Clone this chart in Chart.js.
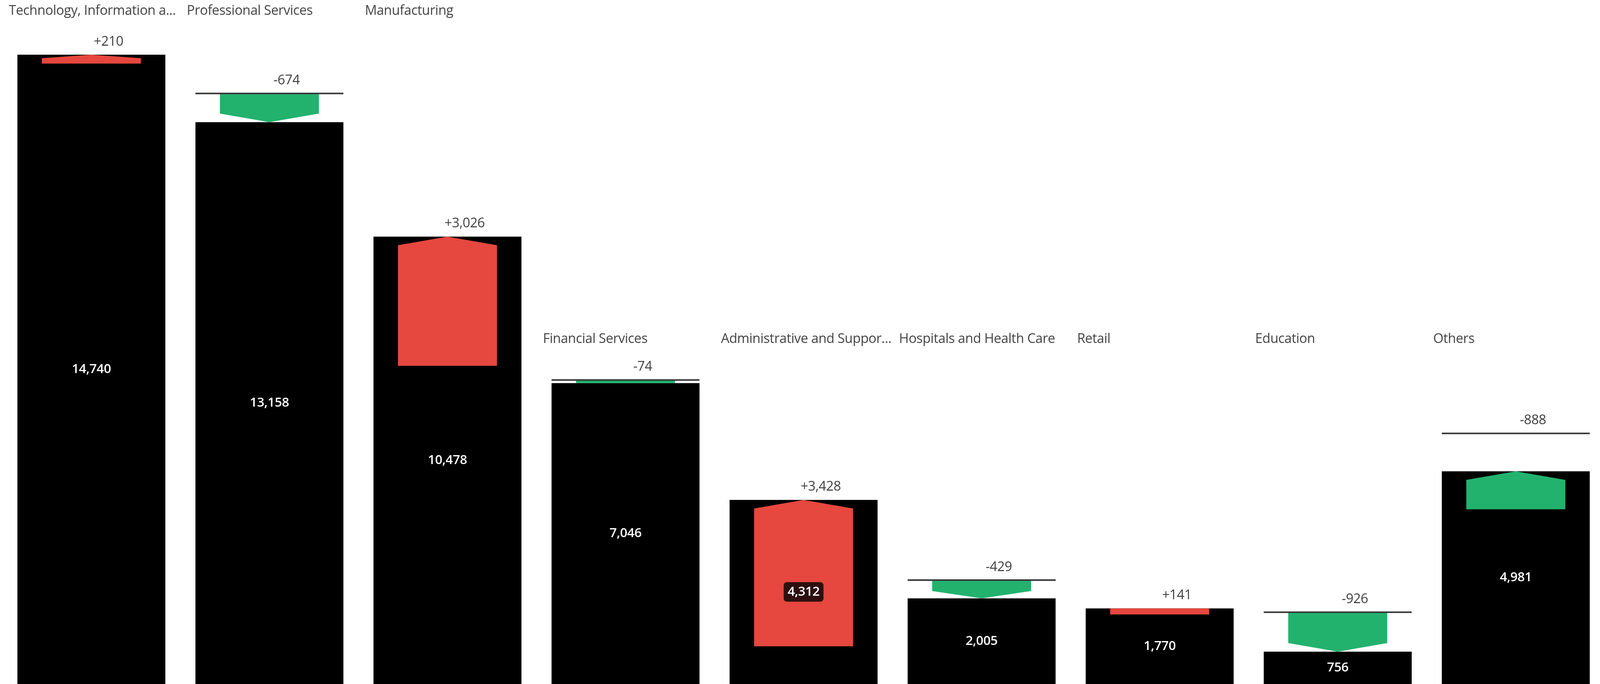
<!DOCTYPE html>
<html>
<head>
<meta charset="utf-8">
<script src="https://cdn.jsdelivr.net/npm/chart.js@4.4.1/dist/chart.umd.min.js"></script>
<style>
  html, body { margin: 0; padding: 0; background: #fff; overflow: hidden; }
  #wrap { width: calc(100vw * 1.003); height: 100vh; }
</style>
</head>
<body>
<div id="wrap"><canvas id="chartIndustrias"></canvas></div>
<script>
const categories = [
    'Technology, Information a...',
    'Professional Services',
    'Manufacturing',
    'Financial Services',
    'Administrative and Suppor...',
    'Hospitals and Health Care',
    'Retail',
    'Education',
    'Others'
];
const currentValues = [14740, 13158, 10478, 7046, 4312, 2005, 1770, 756, 4981];
const deltaValues = [210, -674, 3026, -74, 3428, -429, 141, -926, -888];

const RED = '#E6473E';
const GREEN = '#22B26E';
const FONT = '"Open Sans", "Noto Sans", sans-serif';
const labelRowValue = 8080;

// unidad: px del lienzo por px de la referencia (1751 de alto)
const u = window.innerHeight / 1751;

// rango de la flecha: desde el valor anterior hasta el actual (Others: dentro de la barra)
const arrowRanges = categories.map((c, i) => {
    const v = currentValues[i];
    const d = deltaValues[i];
    return c === 'Others' ? [v - Math.abs(d), v] : [v - d, v];
});
// linea de referencia (valor anterior) solo cuando baja
const refLines = categories.map((c, i) => deltaValues[i] < 0 ? currentValues[i] - deltaValues[i] : null);

const fmt = n => Math.abs(n).toLocaleString('en-US');

const waterfallPlugin = {
    id: 'waterfall',
    afterDatasetsDraw(chart) {
        const ctx = chart.ctx;
        const yScale = chart.scales.y;
        const bars = chart.getDatasetMeta(0).data;
        const arrows = chart.getDatasetMeta(1).data;
        const rowY = yScale.getPixelForValue(labelRowValue);

        ctx.save();
        ctx.letterSpacing = (-0.5 * u) + 'px';
        categories.forEach((cat, i) => {
            const bar = bars[i].getProps(['x', 'y', 'base', 'width'], true);
            const arr = arrows[i].getProps(['x', 'width'], true);
            const cx = bar.x;
            const bx0 = cx - bar.width / 2;
            const bx1 = cx + bar.width / 2;
            const ax0 = arr.x - arr.width / 2;
            const ax1 = arr.x + arr.width / 2;

            const s = yScale.getPixelForValue(arrowRanges[i][0]);
            const t = yScale.getPixelForValue(arrowRanges[i][1]);
            const h = Math.abs(s - t);
            const dir = t < s ? -1 : 1;
            const c = h < 18 * u ? 0 : Math.min(22 * u, h * 0.4);

            // flecha
            ctx.fillStyle = deltaValues[i] > 0 ? RED : GREEN;
            ctx.beginPath();
            ctx.moveTo(ax0, s);
            ctx.lineTo(ax1, s);
            ctx.lineTo(ax1, t - dir * c);
            ctx.lineTo(arr.x, t);
            ctx.lineTo(ax0, t - dir * c);
            ctx.closePath();
            ctx.fill();

            // linea del valor anterior
            let top = Math.min(bar.y, s, t);
            if (refLines[i] !== null) {
                const ly = yScale.getPixelForValue(refLines[i]);
                ctx.strokeStyle = '#363636';
                ctx.lineWidth = 4 * u;
                ctx.beginPath();
                ctx.moveTo(bx0, ly);
                ctx.lineTo(bx1, ly);
                ctx.stroke();
                top = Math.min(top, ly);
            }

            // etiqueta de la variacion
            const deltaY = top - 33 * u;
            ctx.font = (34 * u) + 'px ' + FONT;
            ctx.fillStyle = '#404040';
            ctx.textAlign = 'center';
            ctx.textBaseline = 'middle';
            ctx.fillText((deltaValues[i] > 0 ? '+' : '-') + fmt(deltaValues[i]), cx + 44 * u, deltaY);

            // valor dentro de la barra
            const vy = (bar.y + bar.base) / 2;
            const txt = fmt(currentValues[i]);
            ctx.font = '600 ' + (33 * u) + 'px ' + FONT;
            if (vy > Math.min(s, t) && vy < Math.max(s, t)) {
                const tw = ctx.measureText(txt).width;
                ctx.fillStyle = '#2E0F0F';
                ctx.beginPath();
                ctx.roundRect(cx - tw / 2 - 10 * u, vy - 25 * u, tw + 20 * u, 50 * u, 8 * u);
                ctx.fill();
            }
            ctx.fillStyle = '#fff';
            ctx.fillText(txt, cx, vy);

            // nombre de la categoria
            const catY = (deltaY - 40 * u < rowY) ? 28 * u : rowY;
            ctx.font = (34 * u) + 'px ' + FONT;
            ctx.fillStyle = '#444';
            ctx.textAlign = 'left';
            ctx.fillText(cat, bx0 - 22 * u, catY);
        });
        ctx.restore();
    }
};

const canvas = document.getElementById('chartIndustrias');
const ctx = canvas.getContext('2d');

const chartIndustrias = new Chart(ctx, {
    type: 'bar',
    data: {
        labels: categories,
        datasets: [{
            label: 'Actual',
            data: currentValues,
            backgroundColor: '#000',
            barPercentage: 0.831,
            categoryPercentage: 1,
            grouped: false
        }, {
            label: 'Variacion',
            data: arrowRanges,
            backgroundColor: 'rgba(0,0,0,0)',
            barPercentage: 0.556,
            categoryPercentage: 1,
            grouped: false
        }]
    },
    options: {
        responsive: true,
        maintainAspectRatio: false,
        animation: false,
        layout: { padding: { left: 6 * u, right: 0, top: 0, bottom: 0 } },
        scales: {
            x: { display: false, offset: true },
            y: { display: false, min: 0, max: 16020 }
        },
        plugins: {
            legend: { display: false },
            tooltip: { enabled: false }
        }
    },
    plugins: [waterfallPlugin]
});
</script>
</body>
</html>
